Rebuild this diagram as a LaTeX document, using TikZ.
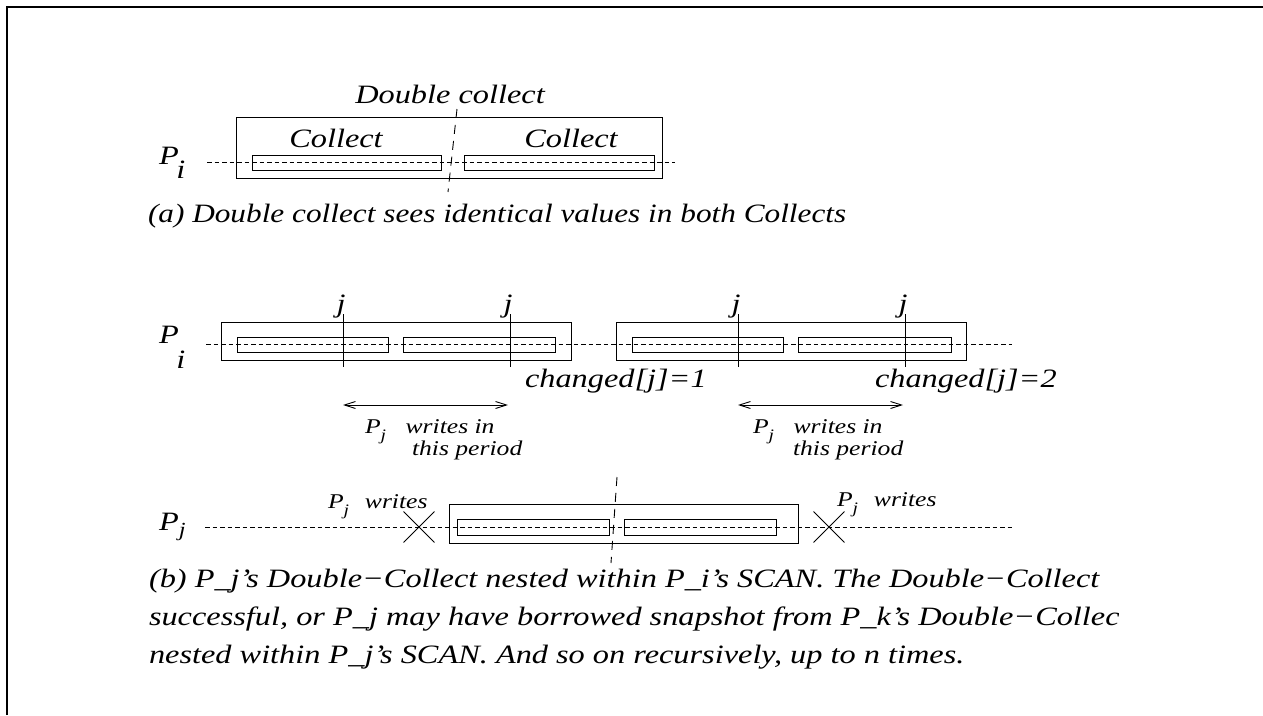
\documentclass[tikz,border=0pt]{standalone}
\usepackage{fontspec}
\setmainfont{Liberation Serif}
\usetikzlibrary{arrows.meta,shapes.misc}

% Times-like italic, set a little wider than its natural width
\newcommand{\strx}[1]{\scalebox{1.22}[1]{#1}}
\newcommand{\strxa}[1]{\scalebox{1.18}[1]{#1}}
% P with a lowered j, as used in the "writes" labels
\newcommand{\pjlow}{P\raisebox{-7pt}{\fontsize{16}{18}\selectfont j}}

\tikzset{
  lbl/.style={inner sep=0pt, outer sep=0pt, font=\fontsize{26.5}{30}\selectfont\itshape},
  lblsmall/.style={inner sep=0pt, outer sep=0pt, font=\fontsize{21}{24}\selectfont\itshape},
  frameline/.style={line width=2.5pt},
  scanbox/.style={draw, line width=0.9pt, inner sep=0pt, outer sep=0pt, anchor=north west},
  timeline/.style={line width=0.9pt, dash pattern=on 4.5pt off 3pt},
  splitline/.style={line width=0.9pt, dash pattern=on 9pt off 7pt},
  writetick/.style={line width=0.9pt},
  period/.style={line width=0.9pt,
    {Straight Barb[length=11pt,width=7pt]}-{Straight Barb[length=11pt,width=7pt]}},
  xmark/.style={draw, cross out, line width=0.9pt, minimum size=30pt, inner sep=0pt},
}

\begin{document}
\begin{tikzpicture}[x=1pt,y=-1pt]
\useasboundingbox (0,0) rectangle (1263,715);

% open frame: top and left edges only
\draw[frameline] (7,715) -- (7,7) -- (1263,7);

% ---------------- (a) successful double collect ----------------
\coordinate (a-l) at (207,162);
\coordinate (a-r) at (675,162);
\draw[timeline] (a-l) -- (a-r);
\node[scanbox, minimum width=426pt, minimum height=61pt] (a-scan) at (236,117) {};
\node[scanbox, minimum width=189pt, minimum height=15pt] (a-c1) at (252,155) {};
\node[scanbox, minimum width=190pt, minimum height=15pt] (a-c2) at (464,155) {};
\coordinate (a-st) at (457,109);
\coordinate (a-sb) at (448,192);
\draw[splitline] (a-st) -- (a-sb);

\node[lbl, anchor=base] (a-dc) at (450,103) {\strx{Double collect}};
\node[lbl, anchor=base] (a-col1) at (336,147) {\strx{Collect}};
\node[lbl, anchor=base] (a-col2) at (571,147) {\strx{Collect}};
\node[lbl, anchor=base west] (a-pi) at (159,164) {\strx{P\kern-2pt\raisebox{-14pt}{i}}};
\node[lbl, anchor=base west] (a-cap) at (148,222)
  {\strxa{(a) Double collect sees identical values in both Collects}};

% ---------------- (b) P_i's two unsuccessful double collects ----------------
\coordinate (bi-l) at (206,344);
\coordinate (bi-r) at (1012,344);
\draw[timeline] (bi-l) -- (bi-r);
\node[scanbox, minimum width=350pt, minimum height=38pt] (bi-dc1) at (221,322) {};
\node[scanbox, minimum width=151pt, minimum height=15pt] (bi-c1) at (237,337) {};
\node[scanbox, minimum width=152pt, minimum height=15pt] (bi-c2) at (403,337) {};
\node[scanbox, minimum width=350pt, minimum height=38pt] (bi-dc2) at (616,322) {};
\node[scanbox, minimum width=151pt, minimum height=15pt] (bi-c3) at (632,337) {};
\node[scanbox, minimum width=153pt, minimum height=15pt] (bi-c4) at (798,337) {};

\foreach \n/\x in {1/343,2/510,3/738,4/905}{
  \coordinate (w\n-t) at (\x,314);
  \coordinate (w\n-b) at (\x,367);
  \draw[writetick] (w\n-t) -- (w\n-b);
  \node[lbl, anchor=base] (j\n) at (\x-2,312) {\strx{j}};
}

\node[lbl, anchor=base west] (bi-pi) at (159,343) {\strx{P\kern-2pt\raisebox{-25pt}{i}}};
\node[lbl, anchor=base west] (chg1) at (525,387) {\strx{changed[j]=1}};
\node[lbl, anchor=base west] (chg2) at (875,387) {\strx{changed[j]=2}};

\coordinate (p1-l) at (343,405);
\coordinate (p1-r) at (508,405);
\coordinate (p2-l) at (738,405);
\coordinate (p2-r) at (903,405);
\draw[period] (p1-l) -- (p1-r);
\draw[period] (p2-l) -- (p2-r);

\node[lblsmall, anchor=base west] (wr1) at (365,433)
  {\strx{\pjlow\kern16pt writes in}};
\node[lblsmall, anchor=base west] (wr1b) at (412,455) {\strx{this period}};
\node[lblsmall, anchor=base west] (wr2) at (753,433)
  {\strx{\pjlow\kern16pt writes in}};
\node[lblsmall, anchor=base west] (wr2b) at (793,455) {\strx{this period}};

% ---------------- (b) P_j's nested double collect ----------------
\coordinate (bj-l) at (205,527);
\coordinate (bj-r) at (1012,527);
\draw[timeline] (bj-l) -- (bj-r);
\node[xmark] (x1) at (419,527) {};
\node[xmark] (x2) at (829,527) {};
\node[scanbox, minimum width=349pt, minimum height=39pt] (bj-dc) at (449,504) {};
\node[scanbox, minimum width=152pt, minimum height=16pt] (bj-c1) at (457,519) {};
\node[scanbox, minimum width=152pt, minimum height=16pt] (bj-c2) at (624,519) {};
\coordinate (bj-st) at (617,477);
\coordinate (bj-sb) at (611,563);
\draw[splitline] (bj-st) -- (bj-sb);

\node[lbl, anchor=base west] (bj-pj) at (159,530) {\strx{P\raisebox{-6pt}{\fontsize{20}{22}\selectfont j}}};
\node[lblsmall, anchor=base west] (wx1) at (328,508)
  {\strx{\pjlow\kern13pt writes}};
\node[lblsmall, anchor=base west] (wx2) at (837,506)
  {\strx{\pjlow\kern13pt writes}};

% caption (b)
\node[lbl, anchor=base west] (b-cap1) at (149,587)
  {\strx{(b) P\_j’s Double−Collect nested within P\_i’s SCAN. The Double−Collect}};
\begin{scope}
  \clip (0,595) rectangle (1118,640);
  \node[lbl, anchor=base west] (b-cap2) at (149,625)
    {\strx{successful, or P\_j may have borrowed snapshot from P\_k’s Double−Collect}};
\end{scope}
\node[lbl, anchor=base west] (b-cap3) at (149,663)
  {\strx{nested within P\_j’s SCAN. And so on recursively, up to n times.}};
\end{tikzpicture}
\end{document}
